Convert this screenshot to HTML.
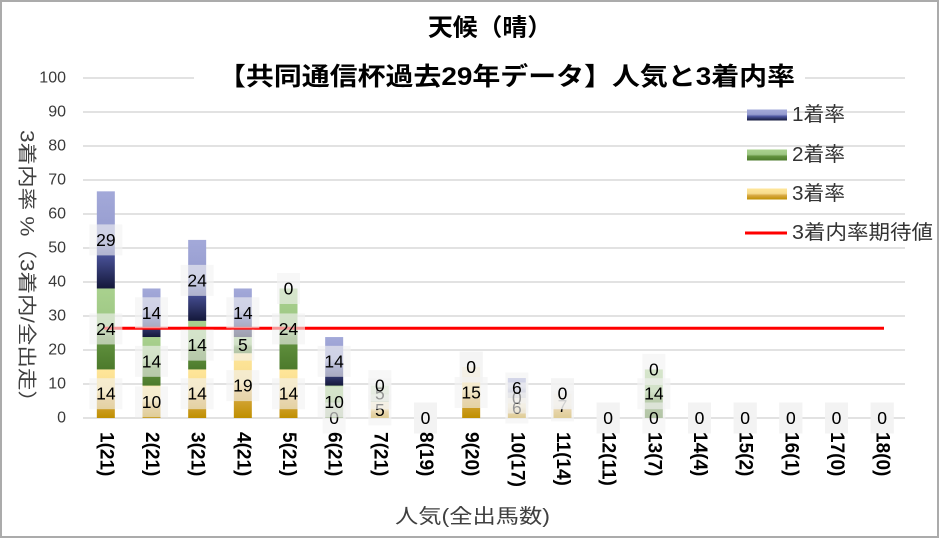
<!DOCTYPE html>
<html><head><meta charset="utf-8">
<style>
html,body{margin:0;padding:0;background:#fff;}
svg{display:block;font-family:"Liberation Sans","Noto Sans CJK JP",sans-serif;}
.gl{stroke:#d9d9d9;stroke-width:1.5;}
.yt{font-size:16px;fill:#3a3a3a;text-anchor:end;dominant-baseline:central;}
.xl{font-size:19px;font-weight:bold;fill:#000;dominant-baseline:central;}
.lb{fill:#f2f2f2;fill-opacity:.62;}
.lt{font-size:17.5px;fill:#000;text-anchor:middle;dominant-baseline:central;}
.lg{font-size:20px;fill:#333;dominant-baseline:central;}
</style></head>
<body>
<svg width="941" height="539" viewBox="0 0 941 539" xmlns="http://www.w3.org/2000/svg">
<defs>
<linearGradient id="g1" x1="0" y1="0" x2="0" y2="1">
<stop offset="0" stop-color="#a3a9d9"/><stop offset="0.45" stop-color="#969ccf"/><stop offset="0.62" stop-color="#4f58a2"/><stop offset="1" stop-color="#14183a"/>
</linearGradient>
<linearGradient id="g2" x1="0" y1="0" x2="0" y2="1">
<stop offset="0" stop-color="#a9d18e"/><stop offset="0.45" stop-color="#9ec784"/><stop offset="0.62" stop-color="#62923f"/><stop offset="1" stop-color="#4c7a2c"/>
</linearGradient>
<linearGradient id="g3" x1="0" y1="0" x2="0" y2="1">
<stop offset="0" stop-color="#ffe699"/><stop offset="0.45" stop-color="#f7dc8e"/><stop offset="0.62" stop-color="#d9aa45"/><stop offset="1" stop-color="#bf8f00"/>
</linearGradient>
</defs>
<rect x="0" y="0" width="941" height="539" fill="#fff"/>
<rect x="1" y="1" width="937" height="536" fill="none" stroke="#ababab" stroke-width="2"/>

<!-- gridlines -->
<line class="gl" x1="83" y1="112" x2="905" y2="112"/>
<line class="gl" x1="83" y1="146" x2="905" y2="146"/>
<line class="gl" x1="83" y1="180" x2="905" y2="180"/>
<line class="gl" x1="83" y1="214" x2="905" y2="214"/>
<line class="gl" x1="83" y1="248" x2="905" y2="248"/>
<line class="gl" x1="83" y1="282" x2="905" y2="282"/>
<line class="gl" x1="83" y1="316" x2="905" y2="316"/>
<line class="gl" x1="83" y1="350" x2="905" y2="350"/>
<line class="gl" x1="83" y1="384" x2="905" y2="384"/>
<line class="gl" x1="83" y1="418" x2="905" y2="418"/>
<line class="gl" x1="83" y1="78" x2="194" y2="78"/>
<line class="gl" x1="805" y1="78" x2="905" y2="78"/>

<!-- y tick labels -->
<text class="yt" x="66" y="78">100</text>
<text class="yt" x="66" y="112">90</text>
<text class="yt" x="66" y="146">80</text>
<text class="yt" x="66" y="180">70</text>
<text class="yt" x="66" y="214">60</text>
<text class="yt" x="66" y="248">50</text>
<text class="yt" x="66" y="282">40</text>
<text class="yt" x="66" y="316">30</text>
<text class="yt" x="66" y="350">20</text>
<text class="yt" x="66" y="384">10</text>
<text class="yt" x="66" y="418">0</text>

<!-- titles -->
<text x="428" y="28" font-size="24" font-weight="bold" fill="#000" dominant-baseline="central" textLength="124" lengthAdjust="spacingAndGlyphs">天候（晴）</text>
<text x="218" y="77" font-size="25" font-weight="bold" fill="#000" dominant-baseline="central" textLength="577" lengthAdjust="spacingAndGlyphs">【共同通信杯過去29年データ】人気と3着内率</text>

<!-- axis titles -->
<text transform="translate(26,271.5) rotate(90)" x="0" y="0" font-size="19" fill="#404040" text-anchor="middle" dominant-baseline="central" textLength="283" lengthAdjust="spacingAndGlyphs">3着内率 %（3着内/全出走）</text>
<text x="395" y="517" font-size="20" fill="#404040" dominant-baseline="central" textLength="155" lengthAdjust="spacingAndGlyphs">人気(全出馬数)</text>

<!-- bars -->
<rect x="96.83" y="369.43" width="18" height="48.57" fill="url(#g3)"/>
<rect x="96.83" y="288.48" width="18" height="80.95" fill="url(#g2)"/>
<rect x="96.83" y="191.33" width="18" height="97.15" fill="url(#g1)"/>

<rect x="142.5" y="385.62" width="18" height="32.38" fill="url(#g3)"/>
<rect x="142.5" y="337.05" width="18" height="48.57" fill="url(#g2)"/>
<rect x="142.5" y="288.48" width="18" height="48.57" fill="url(#g1)"/>

<rect x="188.17" y="369.43" width="18" height="48.57" fill="url(#g3)"/>
<rect x="188.17" y="320.86" width="18" height="48.57" fill="url(#g2)"/>
<rect x="188.17" y="239.9" width="18" height="80.96" fill="url(#g1)"/>

<rect x="233.83" y="353.24" width="18" height="64.76" fill="url(#g3)"/>
<rect x="233.83" y="337.05" width="18" height="16.19" fill="url(#g2)"/>
<rect x="233.83" y="288.48" width="18" height="48.57" fill="url(#g1)"/>

<rect x="279.5" y="369.43" width="18" height="48.57" fill="url(#g3)"/>
<rect x="279.5" y="288.48" width="18" height="80.95" fill="url(#g2)"/>

<rect x="325.17" y="385.62" width="18" height="32.38" fill="url(#g2)"/>
<rect x="325.17" y="337.05" width="18" height="48.57" fill="url(#g1)"/>

<rect x="370.83" y="401.81" width="18" height="16.19" fill="url(#g3)"/>
<rect x="370.83" y="385.62" width="18" height="16.19" fill="url(#g2)"/>

<rect x="462.17" y="367" width="18" height="51" fill="url(#g3)"/>

<rect x="507.83" y="398" width="18" height="20" fill="url(#g3)"/>
<rect x="507.83" y="378" width="18" height="20" fill="url(#g1)"/>

<rect x="553.5" y="393.71" width="18" height="24.29" fill="url(#g3)"/>

<rect x="644.83" y="369.43" width="18" height="48.57" fill="url(#g2)"/>

<!-- expected value line -->
<line x1="104" y1="328.3" x2="884" y2="328.3" stroke="#ff0000" stroke-width="3"/>

<!-- data labels: series 3着 -->
<rect class="lb" x="89.33" y="378.21" width="33" height="31"/><text class="lt" x="105.83" y="393.71">14</text>
<rect class="lb" x="135" y="386.31" width="33" height="31"/><text class="lt" x="151.5" y="401.81">10</text>
<rect class="lb" x="180.67" y="378.21" width="33" height="31"/><text class="lt" x="197.17" y="393.71">14</text>
<rect class="lb" x="226.33" y="370.12" width="33" height="31"/><text class="lt" x="242.83" y="385.62">19</text>
<rect class="lb" x="272" y="378.21" width="33" height="31"/><text class="lt" x="288.5" y="393.71">14</text>
<rect class="lb" x="322.67" y="402.5" width="23" height="31"/><text class="lt" x="334.17" y="418">0</text>
<rect class="lb" x="368.33" y="394.4" width="23" height="31"/><text class="lt" x="379.83" y="409.9">5</text>
<rect class="lb" x="414" y="402.5" width="23" height="31"/><text class="lt" x="425.5" y="418">0</text>
<rect class="lb" x="454.67" y="377" width="33" height="31"/><text class="lt" x="471.17" y="392.5">15</text>
<rect class="lb" x="505.33" y="392.5" width="23" height="31"/><text class="lt" x="516.83" y="408">6</text>
<rect class="lb" x="551" y="390.36" width="23" height="31"/><text class="lt" x="562.5" y="405.86">7</text>
<rect class="lb" x="596.67" y="402.5" width="23" height="31"/><text class="lt" x="608.17" y="418">0</text>
<rect class="lb" x="642.33" y="402.5" width="23" height="31"/><text class="lt" x="653.83" y="418">0</text>
<rect class="lb" x="688" y="402.5" width="23" height="31"/><text class="lt" x="699.5" y="418">0</text>
<rect class="lb" x="733.67" y="402.5" width="23" height="31"/><text class="lt" x="745.17" y="418">0</text>
<rect class="lb" x="779.33" y="402.5" width="23" height="31"/><text class="lt" x="790.83" y="418">0</text>
<rect class="lb" x="825" y="402.5" width="23" height="31"/><text class="lt" x="836.5" y="418">0</text>
<rect class="lb" x="870.67" y="402.5" width="23" height="31"/><text class="lt" x="882.17" y="418">0</text>

<!-- data labels: series 2着 -->
<rect class="lb" x="89.33" y="313.45" width="33" height="31"/><text class="lt" x="105.83" y="328.95">24</text>
<rect class="lb" x="135" y="345.83" width="33" height="31"/><text class="lt" x="151.5" y="361.33">14</text>
<rect class="lb" x="180.67" y="329.64" width="33" height="31"/><text class="lt" x="197.17" y="345.14">14</text>
<rect class="lb" x="231.33" y="329.64" width="23" height="31"/><text class="lt" x="242.83" y="345.14">5</text>
<rect class="lb" x="272" y="313.45" width="33" height="31"/><text class="lt" x="288.5" y="328.95">24</text>
<rect class="lb" x="317.67" y="386.31" width="33" height="31"/><text class="lt" x="334.17" y="401.81">10</text>
<rect class="lb" x="368.33" y="378.21" width="23" height="31"/><text class="lt" x="379.83" y="393.71">5</text>
<rect class="lb" x="414" y="402.5" width="23" height="31"/><text class="lt" x="425.5" y="418">0</text>
<rect class="lb" x="459.67" y="351.5" width="23" height="31"/><text class="lt" x="471.17" y="367">0</text>
<rect class="lb" x="505.33" y="382.5" width="23" height="31"/><text class="lt" x="516.83" y="398">0</text>
<rect class="lb" x="551" y="378.21" width="23" height="31"/><text class="lt" x="562.5" y="393.71">0</text>
<rect class="lb" x="596.67" y="402.5" width="23" height="31"/><text class="lt" x="608.17" y="418">0</text>
<rect class="lb" x="637.33" y="378.21" width="33" height="31"/><text class="lt" x="653.83" y="393.71">14</text>
<rect class="lb" x="688" y="402.5" width="23" height="31"/><text class="lt" x="699.5" y="418">0</text>
<rect class="lb" x="733.67" y="402.5" width="23" height="31"/><text class="lt" x="745.17" y="418">0</text>
<rect class="lb" x="779.33" y="402.5" width="23" height="31"/><text class="lt" x="790.83" y="418">0</text>
<rect class="lb" x="825" y="402.5" width="23" height="31"/><text class="lt" x="836.5" y="418">0</text>
<rect class="lb" x="870.67" y="402.5" width="23" height="31"/><text class="lt" x="882.17" y="418">0</text>

<!-- data labels: series 1着 -->
<rect class="lb" x="89.33" y="224.4" width="33" height="31"/><text class="lt" x="105.83" y="239.9">29</text>
<rect class="lb" x="135" y="297.26" width="33" height="31"/><text class="lt" x="151.5" y="312.76">14</text>
<rect class="lb" x="180.67" y="264.88" width="33" height="31"/><text class="lt" x="197.17" y="280.38">24</text>
<rect class="lb" x="226.33" y="297.26" width="33" height="31"/><text class="lt" x="242.83" y="312.76">14</text>
<rect class="lb" x="277" y="272.98" width="23" height="31"/><text class="lt" x="288.5" y="288.48">0</text>
<rect class="lb" x="317.67" y="345.83" width="33" height="31"/><text class="lt" x="334.17" y="361.33">14</text>
<rect class="lb" x="368.33" y="370.12" width="23" height="31"/><text class="lt" x="379.83" y="385.62">0</text>
<rect class="lb" x="414" y="402.5" width="23" height="31"/><text class="lt" x="425.5" y="418">0</text>
<rect class="lb" x="459.67" y="351.5" width="23" height="31"/><text class="lt" x="471.17" y="367">0</text>
<rect class="lb" x="505.33" y="372.5" width="23" height="31"/><text class="lt" x="516.83" y="388">6</text>
<rect class="lb" x="551" y="378.21" width="23" height="31"/><text class="lt" x="562.5" y="393.71">0</text>
<rect class="lb" x="596.67" y="402.5" width="23" height="31"/><text class="lt" x="608.17" y="418">0</text>
<rect class="lb" x="642.33" y="353.93" width="23" height="31"/><text class="lt" x="653.83" y="369.43">0</text>
<rect class="lb" x="688" y="402.5" width="23" height="31"/><text class="lt" x="699.5" y="418">0</text>
<rect class="lb" x="733.67" y="402.5" width="23" height="31"/><text class="lt" x="745.17" y="418">0</text>
<rect class="lb" x="779.33" y="402.5" width="23" height="31"/><text class="lt" x="790.83" y="418">0</text>
<rect class="lb" x="825" y="402.5" width="23" height="31"/><text class="lt" x="836.5" y="418">0</text>
<rect class="lb" x="870.67" y="402.5" width="23" height="31"/><text class="lt" x="882.17" y="418">0</text>

<!-- x labels -->
<text class="xl" transform="translate(105.83,432) rotate(90)">1(21)</text>
<text class="xl" transform="translate(151.5,432) rotate(90)">2(21)</text>
<text class="xl" transform="translate(197.17,432) rotate(90)">3(21)</text>
<text class="xl" transform="translate(242.83,432) rotate(90)">4(21)</text>
<text class="xl" transform="translate(288.5,432) rotate(90)">5(21)</text>
<text class="xl" transform="translate(334.17,432) rotate(90)">6(21)</text>
<text class="xl" transform="translate(379.83,432) rotate(90)">7(21)</text>
<text class="xl" transform="translate(425.5,432) rotate(90)">8(19)</text>
<text class="xl" transform="translate(471.17,432) rotate(90)">9(20)</text>
<text class="xl" transform="translate(516.83,432) rotate(90)">10(17)</text>
<text class="xl" transform="translate(562.5,432) rotate(90)">11(14)</text>
<text class="xl" transform="translate(608.17,432) rotate(90)">12(11)</text>
<text class="xl" transform="translate(653.83,432) rotate(90)">13(7)</text>
<text class="xl" transform="translate(699.5,432) rotate(90)">14(4)</text>
<text class="xl" transform="translate(745.17,432) rotate(90)">15(2)</text>
<text class="xl" transform="translate(790.83,432) rotate(90)">16(1)</text>
<text class="xl" transform="translate(836.5,432) rotate(90)">17(0)</text>
<text class="xl" transform="translate(882.17,432) rotate(90)">18(0)</text>

<!-- legend -->
<rect x="747" y="109.5" width="40" height="11" fill="url(#g1)"/>
<text class="lg" x="792" y="115" textLength="53" lengthAdjust="spacingAndGlyphs">1着率</text>
<rect x="747" y="149.5" width="40" height="11" fill="url(#g2)"/>
<text class="lg" x="792" y="155" textLength="53" lengthAdjust="spacingAndGlyphs">2着率</text>
<rect x="747" y="188.5" width="40" height="11" fill="url(#g3)"/>
<text class="lg" x="792" y="194" textLength="53" lengthAdjust="spacingAndGlyphs">3着率</text>
<line x1="745" y1="233" x2="787" y2="233" stroke="#ff0000" stroke-width="3"/>
<text class="lg" x="792" y="233" textLength="141" lengthAdjust="spacingAndGlyphs">3着内率期待値</text>
</svg>
</body></html>
